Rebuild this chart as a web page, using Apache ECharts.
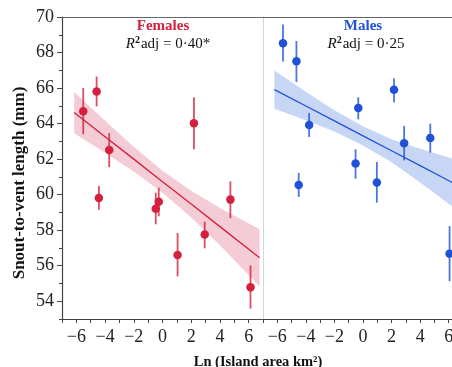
<!DOCTYPE html>
<html>
<head>
<meta charset="utf-8">
<script src="https://cdn.jsdelivr.net/npm/echarts@6/dist/echarts.min.js"></script>
<style>
  html, body { margin: 0; padding: 0; background: #fff; }
  #chart { width: 452px; height: 367px; }
</style>
</head>
<body>
<div id="chart"></div>
<script>
// females: island mean SVL with error bars
const femaleX = [-5.52, -4.59, -3.71, -4.43, 2.19, -0.47, -0.26, 1.05, 2.94, 4.73, 6.13]
const femaleY = [64.69, 65.8, 62.51, 59.81, 64.02, 59.21, 59.6, 56.6, 57.75, 59.72, 54.79]
const femaleLo = [63.4, 64.97, 61.55, 59.15, 62.55, 58.33, 58.78, 55.4, 56.98, 58.68, 53.58]
const femaleHi = [66.0, 66.65, 63.47, 60.49, 65.48, 60.11, 60.39, 57.84, 58.48, 60.75, 56.02]

// males
const maleX = [-5.6, -4.66, -3.77, -0.33, 2.17, 2.88, 4.71, -0.52, 0.97, -4.5, 6.06]
const maleY = [68.52, 67.51, 63.92, 64.88, 65.9, 62.89, 63.19, 61.75, 60.68, 60.54, 56.68]
const maleLo = [67.49, 66.34, 63.25, 64.24, 65.2, 61.93, 62.37, 60.9, 59.55, 59.87, 55.13]
const maleHi = [69.58, 68.65, 64.6, 65.48, 66.55, 63.87, 64.0, 62.55, 61.84, 61.22, 58.23]

// fitted lines and confidence bands
const femaleBandX = [-6.15, -4, -2, 0, 2, 4, 6.76]
const femaleFit = [64.62, 63.26, 62.0, 60.73, 59.47, 58.2, 56.45]
const femaleBandHi = [65.78, 64.16, 62.7, 61.35, 60.22, 59.25, 58.05]
const femaleBandLo = [63.46, 62.36, 61.3, 60.11, 58.72, 57.15, 54.85]

const maleBandX = [-6.2, -4, -2, 0, 2, 4, 6.8]
const maleFit = [65.91, 64.99, 64.15, 63.31, 62.47, 61.63, 60.45]
const maleBandHi = [66.99, 65.79, 64.75, 63.85, 63.12, 62.58, 61.9]
const maleBandLo = [64.83, 64.19, 63.55, 62.77, 61.82, 60.68, 59.0]

const yTicks = [54, 56, 58, 60, 62, 64, 66, 68, 70]

const FONT = 'Liberation Serif'
const RED = '#d3203d'
const BLUE = '#1f52d9'

function zip(a, b) { return a.map((v, i) => [v, b[i]]) }

function bandSeries(idx, xs, hi, lo, fill) {
  return {
    type: 'custom',
    xAxisIndex: idx, yAxisIndex: idx,
    data: [0],
    z: 1,
    silent: true,
    renderItem: (params, api) => {
      const top = xs.map((x, i) => api.coord([x, hi[i]]))
      const bot = xs.map((x, i) => api.coord([x, lo[i]])).reverse()
      return { type: 'polygon', shape: { points: top.concat(bot) }, style: { fill } }
    }
  }
}

function errorSeries(idx, xs, lo, hi, color) {
  return {
    type: 'custom',
    xAxisIndex: idx, yAxisIndex: idx,
    data: xs.map((x, i) => [x, lo[i], hi[i]]),
    z: 3,
    renderItem: (params, api) => {
      const a = api.coord([api.value(0), api.value(1)])
      const b = api.coord([api.value(0), api.value(2)])
      return {
        type: 'line',
        shape: { x1: a[0], y1: a[1], x2: b[0], y2: b[1] },
        style: { stroke: color, lineWidth: 1.8, opacity: 0.8 }
      }
    }
  }
}

function fitSeries(idx, xs, ys, color) {
  return {
    type: 'line',
    xAxisIndex: idx, yAxisIndex: idx,
    data: zip(xs, ys),
    showSymbol: false,
    z: 2,
    lineStyle: { color, width: 1.3 }
  }
}

function pointSeries(idx, xs, ys, color) {
  return {
    type: 'scatter',
    xAxisIndex: idx, yAxisIndex: idx,
    data: zip(xs, ys),
    symbolSize: 8.5,
    z: 4,
    itemStyle: { color, opacity: 1 }
  }
}

function bottomAxis(gridIndex) {
  return {
    type: 'value', gridIndex, min: -7, max: 7, interval: 1,
    position: 'bottom',
    splitLine: { show: false },
    axisLine: { onZero: false, lineStyle: { color: '#444', width: 1.2 } },
    axisTick: { length: 4, lineStyle: { color: '#444' } },
    axisLabel: {
      color: '#222', fontFamily: FONT, fontSize: 18, margin: 9,
      formatter: v => (v % 2 === 0 ? String(v).replace('-', '\u2212') : '')
    }
  }
}

function topAxis(gridIndex) {
  return {
    type: 'value', gridIndex, min: -7, max: 7, position: 'top',
    axisLine: { onZero: false, lineStyle: { color: '#666', width: 1 } },
    axisTick: { show: false }, axisLabel: { show: false }, splitLine: { show: false }
  }
}

const chart = echarts.init(document.getElementById('chart'))
chart.setOption({
  animation: false,
  backgroundColor: '#fff',
  grid: [
    { left: 62, top: 17, width: 201, height: 302, outerBoundsMode: 'none', containLabel: false },
    { left: 263, top: 17, width: 200, height: 302, outerBoundsMode: 'none', containLabel: false }
  ],
  xAxis: [bottomAxis(0), bottomAxis(1), topAxis(0), topAxis(1)],
  yAxis: [
    {
      type: 'value', gridIndex: 0, min: 53, max: 70, interval: 1, position: 'left',
      splitLine: { show: false },
      axisLine: { show: true, onZero: false, lineStyle: { color: '#444', width: 1.2 } },
      axisTick: { length: 3, lineStyle: { color: '#444' } },
      axisLabel: {
        color: '#222', fontFamily: FONT, fontSize: 18, margin: 8,
        formatter: v => (v % 2 === 0 ? String(v) : '')
      }
    },
    {
      type: 'value', gridIndex: 1, min: 53, max: 70, position: 'left',
      splitLine: { show: false },
      axisLine: { show: true, onZero: false, lineStyle: { color: '#d6d6d6', width: 1 } },
      axisTick: { show: false }, axisLabel: { show: false }
    },
    {
      type: 'value', gridIndex: 0, min: 53, max: 70, position: 'left',
      splitLine: { show: false },
      axisLine: { show: false, onZero: false },
      axisTick: { show: true, length: 5, customValues: yTicks, lineStyle: { color: '#444' } },
      axisLabel: { show: false }
    }
  ],
  series: [
    bandSeries(0, femaleBandX, femaleBandHi, femaleBandLo, 'rgba(222, 96, 124, 0.32)'),
    fitSeries(0, femaleBandX, femaleFit, RED),
    errorSeries(0, femaleX, femaleLo, femaleHi, RED),
    pointSeries(0, femaleX, femaleY, RED),
    bandSeries(1, maleBandX, maleBandHi, maleBandLo, 'rgba(100, 140, 228, 0.36)'),
    fitSeries(1, maleBandX, maleFit, BLUE),
    errorSeries(1, maleX, maleLo, maleHi, BLUE),
    pointSeries(1, maleX, maleY, BLUE)
  ],
  graphic: [
    {
      type: 'text', x: 163, y: 26,
      style: { text: 'Females', font: 'bold 15px "Liberation Serif"', fill: RED, align: 'center', verticalAlign: 'middle' }
    },
    {
      type: 'text', x: 168, y: 44,
      style: {
        text: '{i|R}{s|2}adj = 0·40*', align: 'center', verticalAlign: 'middle',
        font: '15px "Liberation Serif"', fill: '#111',
        rich: {
          i: { fontFamily: FONT, fontSize: 15, fontStyle: 'italic', fill: '#111' },
          s: { fontFamily: FONT, fontSize: 10, fontWeight: 'bold', verticalAlign: 'top', padding: [0, 1, 8, 0], fill: '#111' }
        }
      }
    },
    {
      type: 'text', x: 363, y: 26,
      style: { text: 'Males', font: 'bold 15px "Liberation Serif"', fill: BLUE, align: 'center', verticalAlign: 'middle' }
    },
    {
      type: 'text', x: 366, y: 44,
      style: {
        text: '{i|R}{s|2}adj = 0·25', align: 'center', verticalAlign: 'middle',
        font: '15px "Liberation Serif"', fill: '#111',
        rich: {
          i: { fontFamily: FONT, fontSize: 15, fontStyle: 'italic', fill: '#111' },
          s: { fontFamily: FONT, fontSize: 10, fontWeight: 'bold', verticalAlign: 'top', padding: [0, 1, 8, 0], fill: '#111' }
        }
      }
    },
    {
      type: 'text', x: 20, y: 183, rotation: Math.PI / 2,
      style: { text: 'Snout-to-vent length (mm)', font: 'bold 17px "Liberation Serif"', fill: '#111', align: 'center', verticalAlign: 'middle' }
    },
    {
      type: 'text', x: 258, y: 362,
      style: { text: 'Ln (Island area km²)', font: 'bold 14.5px "Liberation Serif"', fill: '#111', align: 'center', verticalAlign: 'middle' }
    }
  ]
})
</script>
</body>
</html>
